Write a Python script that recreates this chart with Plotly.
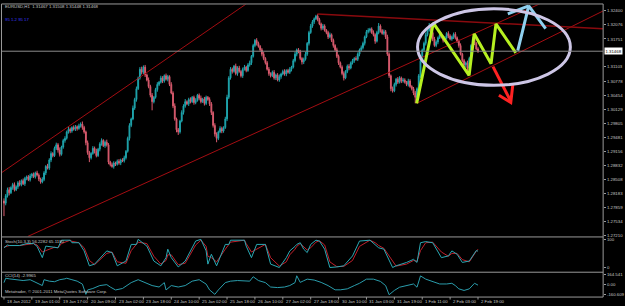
import plotly.graph_objects as go

# ---------------- data ----------------
FIRST_OPEN = 1.2800
closes = [
    1.2795, 1.2812, 1.2826, 1.2819, 1.2831, 1.2838, 1.2826, 1.2833, 1.2842, 1.2838,
    1.2847, 1.2840, 1.2852, 1.2856, 1.2849, 1.2858, 1.2862, 1.2856, 1.2865, 1.2860,
    1.2851, 1.2844, 1.2850, 1.2865, 1.2880, 1.2876, 1.2895, 1.2910, 1.2905, 1.2922,
    1.2930, 1.2918, 1.2908, 1.2925, 1.2940, 1.2945, 1.2960, 1.2966, 1.2962, 1.2970,
    1.2966, 1.2972, 1.2968, 1.2974, 1.2978, 1.2970, 1.2960, 1.2935, 1.2912, 1.2900,
    1.2910, 1.2922, 1.2915, 1.2905, 1.2920, 1.2932, 1.2940, 1.2928, 1.2936, 1.2930,
    1.2890, 1.2884, 1.2880, 1.2888, 1.2885, 1.2892, 1.2888, 1.2895, 1.2893, 1.2900,
    1.2915, 1.2945, 1.2975, 1.2990, 1.3015, 1.3035, 1.3060, 1.3085, 1.3105, 1.3098,
    1.3110, 1.3092, 1.3080, 1.3065, 1.3045, 1.3030, 1.3040, 1.3058, 1.3070, 1.3075,
    1.3085, 1.3078, 1.3090, 1.3082, 1.3088, 1.3070, 1.3050, 1.3020, 1.2990, 1.2965,
    1.2960, 1.2985, 1.3005, 1.3020, 1.3030, 1.3025, 1.3035, 1.3030, 1.3040, 1.3028,
    1.3033, 1.3045, 1.3038, 1.3030, 1.3036, 1.3026, 1.3040, 1.3035, 1.3025, 1.3005,
    1.2975, 1.2955, 1.2945, 1.2960, 1.2968, 1.2962, 1.2970, 1.2990, 1.3040, 1.3085,
    1.3105, 1.3100, 1.3112, 1.3095, 1.3108, 1.3100, 1.3090, 1.3105, 1.3110, 1.3102,
    1.3115, 1.3120, 1.3135, 1.3160, 1.3172, 1.3165, 1.3158, 1.3150, 1.3140, 1.3130,
    1.3120, 1.3105, 1.3095, 1.3090, 1.3098, 1.3085, 1.3092, 1.3080, 1.3088, 1.3094,
    1.3100, 1.3094, 1.3102, 1.3098, 1.3105, 1.3110, 1.3125, 1.3140, 1.3150, 1.3145,
    1.3130, 1.3122, 1.3128, 1.3140, 1.3165, 1.3190, 1.3205, 1.3215, 1.3222, 1.3228,
    1.3220, 1.3210, 1.3200, 1.3205, 1.3195, 1.3190, 1.3180, 1.3185, 1.3172, 1.3160,
    1.3150, 1.3135, 1.3120, 1.3110, 1.3095, 1.3085, 1.3100, 1.3112, 1.3108, 1.3120,
    1.3125, 1.3130, 1.3128, 1.3140, 1.3150, 1.3155, 1.3165, 1.3180, 1.3192, 1.3195,
    1.3198, 1.3190, 1.3185, 1.3170, 1.3190, 1.3205, 1.3195, 1.3188, 1.3192, 1.3180,
    1.3140, 1.3090, 1.3060, 1.3055, 1.3070, 1.3082, 1.3075, 1.3085, 1.3078, 1.3080,
    1.3075, 1.3070, 1.3078, 1.3065, 1.3060, 1.3050, 1.3040, 1.3060, 1.3090, 1.3125,
    1.3150, 1.3165, 1.3185, 1.3195, 1.3205, 1.3190, 1.3175, 1.3160, 1.3168, 1.3178,
    1.3185, 1.3180, 1.3172, 1.3178, 1.3188, 1.3182, 1.3175, 1.3180, 1.3186, 1.3178,
    1.3170, 1.3160, 1.3140, 1.3125, 1.3115, 1.3120, 1.3108, 1.3130, 1.3160, 1.3175,
    1.3165, 1.3152, 1.31468,
]
up_wick_pips = [
    6, 4, 5, 6, 3, 4, 5, 3, 4, 6,   3, 5, 4, 3, 4, 5, 3, 4, 3, 5,
    4, 3, 5, 4, 3, 6, 4, 5, 3, 4,   5, 4, 6, 3, 4, 5, 3, 6, 4, 3,
    5, 4, 3, 5, 4, 6, 4, 3, 5, 4,   3, 5, 4, 6, 3, 4, 5, 3, 4, 6,
    4, 3, 5, 4, 3, 4, 5, 3, 4, 5,   3, 4, 5, 3, 6, 4, 5, 3, 5, 6,
    4, 5, 3, 6, 4, 5, 3, 4, 5, 3,   5, 4, 3, 5, 4, 3, 5, 4, 6, 3,
    4, 3, 5, 4, 6, 3, 4, 5, 3, 4,   5, 3, 4, 6, 3, 5, 4, 3, 5, 4,
    3, 5, 4, 3, 5, 4, 3, 5, 6, 4,   5, 4, 3, 6, 4, 5, 3, 4, 5, 3,
    4, 5, 3, 4, 3, 5, 4, 3, 4, 5,   3, 4, 5, 3, 4, 5, 3, 4, 5, 3,
    4, 5, 3, 4, 5, 3, 4, 5, 3, 4,   5, 3, 4, 5, 3, 4, 5, 4, 3, 3,
    5, 4, 3, 5, 4, 3, 4, 5, 3, 4,   3, 5, 4, 3, 4, 5, 3, 4, 5, 3,
    4, 3, 5, 4, 3, 5, 4, 3, 4, 5,   3, 4, 5, 3, 4, 7, 4, 3, 5, 4,
    5, 4, 3, 5, 4, 3, 5, 4, 3, 5,   4, 3, 5, 4, 3, 4, 5, 3, 4, 5,
    3, 4, 5, 3, 7, 4, 3, 5, 4, 3,   4, 5, 3, 4, 3, 5, 4, 3, 4, 5,
    3, 4, 5, 3, 4, 3, 5, 4, 3, 4, 5, 3, 4,
]
down_wick_pips = [
    30, 5, 4, 6, 3, 5, 4, 3, 5, 4,  4, 3, 5, 4, 3, 4, 5, 3, 4, 3,
    5, 4, 3, 4, 5, 3, 4, 5, 4, 3,   4, 6, 5, 3, 4, 5, 3, 4, 5, 4,
    3, 4, 5, 3, 4, 5, 4, 6, 5, 10,  4, 3, 5, 4, 3, 5, 4, 3, 5, 4,
    5, 4, 3, 5, 4, 3, 4, 5, 3, 4,   4, 3, 5, 4, 3, 4, 5, 3, 4, 5,
    4, 5, 3, 4, 5, 20, 4, 3, 5, 4,  3, 5, 4, 3, 5, 4, 3, 5, 4, 6,
    7, 4, 3, 5, 4, 3, 5, 4, 3, 5,   4, 3, 5, 4, 3, 5, 4, 3, 5, 6,
    5, 6, 9, 4, 3, 5, 4, 3, 5, 4,   4, 5, 3, 4, 5, 3, 4, 5, 3, 4,
    3, 4, 5, 3, 4, 5, 3, 4, 5, 4,   4, 3, 5, 4, 3, 4, 5, 3, 4, 5,
    3, 4, 5, 3, 4, 5, 3, 4, 5, 3,   4, 6, 5, 3, 4, 5, 3, 4, 5, 3,
    4, 3, 5, 4, 3, 4, 5, 3, 4, 5,   3, 4, 5, 3, 4, 6, 3, 4, 5, 3,
    4, 5, 3, 4, 5, 3, 4, 5, 3, 4,   5, 3, 4, 6, 3, 4, 5, 3, 4, 5,
    4, 5, 6, 4, 3, 5, 4, 3, 5, 4,   3, 4, 5, 3, 4, 5, 14, 4, 3, 5,
    4, 3, 5, 4, 3, 4, 5, 3, 4, 5,   3, 4, 5, 3, 4, 5, 3, 4, 5, 4,
    4, 5, 3, 4, 5, 6, 17, 4, 3, 5, 4, 3, 4,
]

time_label_bars = [0, 16, 32, 48, 64, 80, 96, 112, 128, 144, 160, 176, 192, 208, 224, 240, 256, 272]
time_labels = ["18 Jan 2012", "19 Jan 01:00", "19 Jan 17:00", "20 Jan 09:00", "23 Jan 02:00",
               "23 Jan 18:00", "24 Jan 10:00", "25 Jan 02:00", "25 Jan 18:00", "26 Jan 10:00",
               "27 Jan 02:00", "27 Jan 18:00", "30 Jan 10:00", "31 Jan 03:00", "31 Jan 19:00",
               "1 Feb 11:00", "2 Feb 03:00", "2 Feb 19:00"]

price_tick_vals = [1.32400, 1.32076, 1.31751, 1.31103, 1.30778, 1.30454, 1.30129, 1.29805,
                   1.29481, 1.29156, 1.28832, 1.28508, 1.28183, 1.27859, 1.27534, 1.27210]
price_tick_text = ["1.32400", "1.32076", "1.31751", "1.31103", "1.30778", "1.30454", "1.30129", "1.29805",
                   "1.29481", "1.29156", "1.28832", "1.28508", "1.28183", "1.27859", "1.27534", "1.27210"]

stoch_bars = [0, 2, 3, 9, 13, 17, 19, 22, 24, 29, 31, 33, 38, 39, 43, 46, 49, 52, 59, 62,
              65, 70, 73, 76, 77, 82, 86, 90, 93, 94, 96, 100, 104, 110, 113, 116, 117, 119, 122, 127,
              129, 130, 138, 139, 142, 145, 150, 153, 158, 162, 164, 167, 168, 170, 172, 174, 176, 179, 181, 184,
              187, 191, 195, 200, 204, 210, 213, 215, 218, 223, 225, 231, 235, 237, 239, 242, 246, 251, 255, 257,
              260, 263, 267, 271, 272]
stoch_main = [70, 80, 78, 78, 85, 85, 75, 35, 76, 70, 70, 97, 97, 88, 88, 59, 6, 12, 59, 53,
              6, 23, 82, 82, 100, 76, 23, 6, 35, 65, 35, 2, 23, 94, 100, 59, 12, 47, 6, 82,
              82, 97, 97, 76, 35, 82, 82, 12, 0, 35, 59, 75, 82, 88, 65, 53, 82, 97, 94, 65,
              0, 2, 6, 41, 94, 97, 82, 70, 65, 0, 6, 18, 29, 18, 88, 92, 88, 35, 41, 59,
              47, 18, 23, 60, 58]
stoch_signal = [72, 76, 78, 78, 82, 85, 80, 55, 60, 72, 70, 85, 97, 93, 88, 70, 25, 10, 50, 55,
                20, 15, 60, 80, 90, 85, 40, 12, 25, 45, 45, 10, 15, 80, 97, 75, 40, 35, 20, 65,
                80, 90, 97, 85, 55, 65, 82, 35, 5, 20, 45, 65, 75, 85, 75, 62, 70, 90, 95, 80,
                20, 3, 4, 25, 75, 97, 88, 78, 68, 20, 5, 12, 25, 22, 60, 88, 90, 55, 40, 50,
                50, 28, 20, 58, 65]

cci_bars = [0, 1, 3, 7, 11, 15, 19, 22, 23, 26, 29, 32, 35, 36, 39, 42, 45, 47, 48, 51,
            55, 59, 61, 64, 68, 70, 73, 77, 81, 85, 89, 92, 93, 96, 100, 104, 108, 112, 116, 118,
            121, 123, 127, 130, 134, 138, 141, 143, 146, 150, 153, 157, 161, 164, 167, 168, 170, 172, 174, 178,
            182, 186, 190, 193, 197, 201, 204, 208, 212, 216, 219, 221, 224, 227, 231, 235, 237, 239, 242, 246,
            250, 254, 257, 259, 261, 264, 267, 270, 272]
cci_values = [38, 110, 100, 86, 72, 86, 38, -10, 86, 62, 53, 86, 100, 110, 86, 62, 14, -154, -82, -58,
              -10, 5, -34, -82, -58, -24, 38, 86, 38, -10, -34, 38, -82, -10, -34, -10, 62, 86, 14, -82,
              -154, -82, 38, 62, 72, 62, 62, 134, 72, 38, -34, -43, -34, -10, 38, 150, 42, 69, 95, 80,
              42, -11, -80, -80, -64, -11, 27, 95, 95, 58, -11, -160, -90, -37, -11, 16, -37, 148, 95, 58,
              16, 16, 27, -11, -64, -90, -64, 27, -3]

# Hand-drawn chart objects, in (bar, price)
channel_upper = ([-2.3, 138.9], [1.2863, 1.3256])
channel_lower = ([13.7, 311.0], [1.2718, 1.3263])
resistance = ([179.8, 343.8], [1.3233, 1.3199])
support = ([236.8, 343.8], [1.3026, 1.3240])
zigzag_bars = [236.8, 246.4, 266.9, 269.8, 279.5, 282.3, 293.7]
zigzag_prices = [1.3026, 1.3212, 1.3091, 1.3187, 1.3118, 1.3210, 1.3143]
blue_arrow_bars = [294.8, 301.1, 310.8, None, 289.1, 301.1]
blue_arrow_prices = [1.3148, 1.3252, 1.3199, None, 1.3233, 1.3252]
red_arrow_bars = [280.6, 290.8, None, 284.0, 290.8, 292.0]
red_arrow_prices = [1.3111, 1.3031, None, 1.3045, 1.3028, 1.3070]
ellipse_box = (237.3, 325.0, 1.3068, 1.3245)  # x0, x1, y0, y1

header_text = "EURUSD,H1  1.31467 1.31508 1.31448 1.31468"
blue_text = "95 1.2 95 17"
stoch_text = "Stoch(10,3,3) 56.2282 65.1180"
cci_text = "CCI(14) -2.9965"
copyright_text = "Metatrader, © 2001-2011 MetaQuotes Software Corp."
cci_tick_vals = [164.541, 0.0, -160.609]
cci_tick_text = ["164.541", "0.00", "-160.609"]

# ---------------- build OHLC ----------------
n = len(closes)
opens = [FIRST_OPEN] + closes[:-1]
highs, lows = [], []
for i in range(n):
    u = up_wick_pips[i] if i < len(up_wick_pips) else 3
    d = down_wick_pips[i] if i < len(down_wick_pips) else 3
    highs.append(max(opens[i], closes[i]) + u * 0.0001)
    lows.append(min(opens[i], closes[i]) - d * 0.0001)
bars = list(range(n))

W, H = 625, 306
def px_x(p): return p / W
def px_y(p): return (H - p) / H

BULL = "#1fa5ad"
BEAR = "#d95b6e"
TREND = "#a30d12"
GRAY = "#9a9a9a"
TXT = "#c8c8c8"
FONT = "Liberation Sans"

fig = go.Figure()
fig.add_trace(go.Candlestick(
    x=bars, open=opens, high=highs, low=lows, close=closes,
    increasing=dict(line=dict(color=BULL, width=1), fillcolor=BULL),
    decreasing=dict(line=dict(color=BEAR, width=1), fillcolor=BEAR),
    whiskerwidth=0, xaxis="x", yaxis="y", showlegend=False, hoverinfo="skip"))

for xs, ys in (channel_upper, channel_lower, support):
    fig.add_trace(go.Scatter(x=xs, y=ys, mode="lines", line=dict(color=TREND, width=1),
                             xaxis="x", yaxis="y", showlegend=False, hoverinfo="skip"))
fig.add_trace(go.Scatter(x=resistance[0], y=resistance[1], mode="lines", line=dict(color="#8a0a0e", width=1.5),
                         xaxis="x", yaxis="y", showlegend=False, hoverinfo="skip"))

fig.add_trace(go.Scatter(x=zigzag_bars, y=zigzag_prices, mode="lines",
                         line=dict(color="#b6f020", width=3), xaxis="x", yaxis="y",
                         showlegend=False, hoverinfo="skip"))
fig.add_trace(go.Scatter(x=blue_arrow_bars, y=blue_arrow_prices, mode="lines", connectgaps=False,
                         line=dict(color="#8fd0ef", width=3), xaxis="x", yaxis="y",
                         showlegend=False, hoverinfo="skip"))
fig.add_trace(go.Scatter(x=red_arrow_bars, y=red_arrow_prices, mode="lines", connectgaps=False,
                         line=dict(color="#ff2222", width=3), xaxis="x", yaxis="y",
                         showlegend=False, hoverinfo="skip"))

fig.add_trace(go.Scatter(x=stoch_bars, y=stoch_signal, mode="lines", line=dict(color="#c0202c", width=1),
                         xaxis="x2", yaxis="y2", showlegend=False, hoverinfo="skip"))
fig.add_trace(go.Scatter(x=stoch_bars, y=stoch_main, mode="lines", line=dict(color="#2aa9b4", width=1),
                         xaxis="x2", yaxis="y2", showlegend=False, hoverinfo="skip"))
fig.add_trace(go.Scatter(x=cci_bars, y=cci_values, mode="lines", line=dict(color="#2a9cab", width=1),
                         xaxis="x3", yaxis="y3", showlegend=False, hoverinfo="skip"))

xr = [-1.14, 343.8]
xdom = [px_x(2), px_x(608)]
xcommon = dict(range=xr, domain=xdom, showgrid=False, zeroline=False, showticklabels=False,
               ticks="", showline=False, fixedrange=True)
ycommon = dict(showgrid=False, zeroline=False, side="right", ticks="outside", ticklen=2,
               tickcolor=GRAY, tickfont=dict(size=4.3, color=TXT, family=FONT), showline=False)

fig.update_layout(
    width=W, height=H, margin=dict(l=0, r=0, t=0, b=0),
    paper_bgcolor="#000000", plot_bgcolor="#000000",
    xaxis=dict(**xcommon, anchor="y", rangeslider=dict(visible=False)),
    xaxis2=dict(**xcommon, anchor="y2", matches="x"),
    xaxis3=dict(**xcommon, anchor="y3", matches="x"),
    yaxis=dict(**ycommon, anchor="x", range=[1.27179, 1.32550],
               domain=[px_y(237), px_y(3.5)], tickvals=price_tick_vals, ticktext=price_tick_text),
    yaxis2=dict(**ycommon, anchor="x2", range=[-15, 105], domain=[px_y(272.5), px_y(238.5)],
                tickvals=[100, 0], ticktext=["100", "0"]),
    yaxis3=dict(**ycommon, anchor="x3", range=[-190, 192], domain=[px_y(297.5), px_y(274)],
                tickvals=cci_tick_vals, ticktext=cci_tick_text),
)

shapes = []
# ellipse
shapes.append(dict(type="circle", xref="x", yref="y", x0=ellipse_box[0], x1=ellipse_box[1],
                   y0=ellipse_box[2], y1=ellipse_box[3], line=dict(color="#cdc6e6", width=3)))
# bid line
shapes.append(dict(type="line", xref="paper", yref="y", x0=xdom[0], x1=xdom[1],
                   y0=closes[-1], y1=closes[-1], line=dict(color="#8c8c8c", width=1)))
# panel frames
for yy in (3, 237.5, 273, 298):
    shapes.append(dict(type="line", xref="paper", yref="paper", x0=px_x(1.5), x1=px_x(608),
                       y0=px_y(yy), y1=px_y(yy), line=dict(color=GRAY, width=1)))
for xx in (1.5, 608):
    shapes.append(dict(type="line", xref="paper", yref="paper", x0=px_x(xx), x1=px_x(xx),
                       y0=px_y(298), y1=px_y(3), line=dict(color=GRAY, width=1)))
# time tick marks
for b in time_label_bars:
    shapes.append(dict(type="line", xref="x3", yref="paper", x0=b, x1=b,
                       y0=px_y(298), y1=px_y(300.5), line=dict(color=GRAY, width=1)))
fig.update_layout(shapes=shapes)

ann = []
def label(text, x, y, color=TXT, size=4.3):
    ann.append(dict(text=text, xref="paper", yref="paper", x=px_x(x), y=px_y(y), xanchor="left",
                    yanchor="middle", showarrow=False, font=dict(size=size, color=color, family=FONT)))
label(header_text, 3, 5.5)
label(blue_text, 3, 19, color="#3a3aff")
label(stoch_text, 3, 242.5)
label(cci_text, 3, 276.5)
label(copyright_text, 3, 292)
for b, t in zip(time_label_bars, time_labels):
    ann.append(dict(text=t, xref="x3", yref="paper", x=b, y=px_y(302), xanchor="left", yanchor="middle",
                    xshift=1, showarrow=False, font=dict(size=4.3, color=TXT, family=FONT)))
ann.append(dict(text=f"{closes[-1]:.5f}", xref="paper", yref="y", x=px_x(609), y=closes[-1],
                xanchor="left", yanchor="middle", showarrow=False, bgcolor="#ffffff", borderpad=0.5,
                font=dict(size=4.3, color="#000000", family=FONT)))
fig.update_layout(annotations=ann)

fig.write_html("out.html")
